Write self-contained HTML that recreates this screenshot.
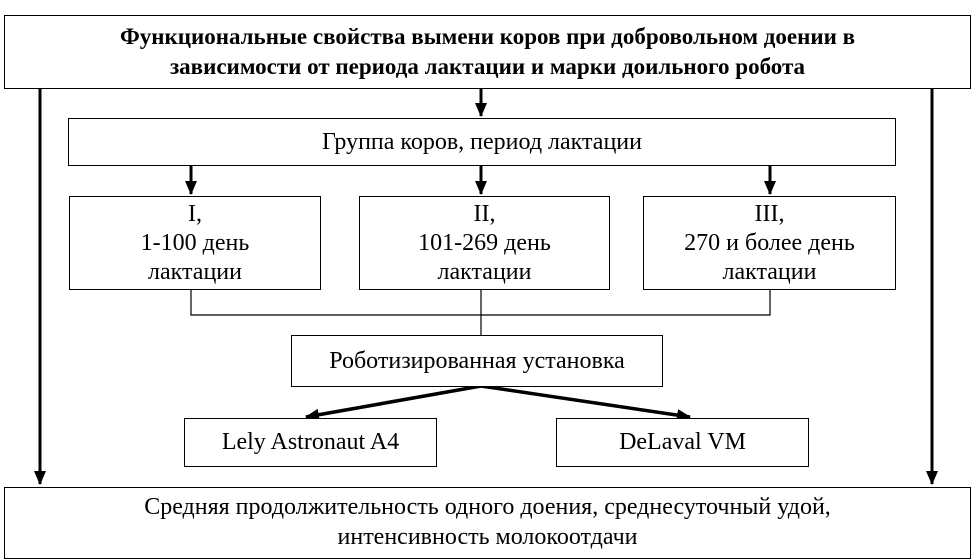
<!DOCTYPE html>
<html><head><meta charset="utf-8"><style>
body{margin:0;width:974px;height:557px;background:#fff;overflow:hidden;position:relative;font-family:"Liberation Serif","Noto Serif CJK SC",serif;color:#000}
.b{position:absolute;border:1.5px solid #000;box-sizing:border-box;display:flex;align-items:center;justify-content:center;text-align:center;font-size:24px;line-height:29px;background:#fff;white-space:nowrap}
svg{position:absolute;left:0;top:0}
</style></head><body>
<svg width="974" height="557">
<defs><marker id="m" markerWidth="14" markerHeight="12" refX="13" refY="6" orient="auto" markerUnits="userSpaceOnUse"><path d="M0,0L14,6L0,12z"/></marker></defs>
<g stroke="#000" fill="none">
<line x1="40" y1="88" x2="40" y2="484" stroke-width="3" marker-end="url(#m)"/>
<line x1="932" y1="88" x2="932" y2="484" stroke-width="3" marker-end="url(#m)"/>
<line x1="481" y1="88" x2="481" y2="116" stroke-width="3" marker-end="url(#m)"/>
<line x1="191" y1="165" x2="191" y2="194" stroke-width="3" marker-end="url(#m)"/>
<line x1="481" y1="165" x2="481" y2="194" stroke-width="3" marker-end="url(#m)"/>
<line x1="770" y1="165" x2="770" y2="194" stroke-width="3" marker-end="url(#m)"/>
<polyline points="191,289 191,315 770,315 770,289" stroke-width="1.2"/>
<line x1="481" y1="289" x2="481" y2="335" stroke-width="1.2"/>
<line x1="481" y1="386" x2="306" y2="417" stroke-width="3.5" marker-end="url(#m)"/>
<line x1="481" y1="386" x2="690" y2="417" stroke-width="3.5" marker-end="url(#m)"/>
</g></svg>
<div class="b" style="left:4px;top:15px;width:967px;height:74px;font-weight:bold;font-size:23px;line-height:30px">Функциональные свойства вымени коров при добровольном доении в<br>зависимости от периода лактации и марки доильного робота</div>
<div class="b" style="left:68px;top:118px;width:828px;height:48px">Группа коров, период лактации</div>
<div class="b" style="left:69px;top:196px;width:252px;height:94px">I,<br>1-100 день<br>лактации</div>
<div class="b" style="left:359px;top:196px;width:251px;height:94px">II,<br>101-269 день<br>лактации</div>
<div class="b" style="left:643px;top:196px;width:253px;height:94px">III,<br>270 и более день<br>лактации</div>
<div class="b" style="left:291px;top:335px;width:372px;height:52px">Роботизированная установка</div>
<div class="b" style="left:184px;top:418px;width:253px;height:49px">Lely Astronaut A4</div>
<div class="b" style="left:556px;top:418px;width:253px;height:49px">DeLaval VM</div>
<div class="b" style="left:4px;top:487px;width:967px;height:72px;line-height:30px;align-items:flex-start;padding-top:4px">Средняя продолжительность одного доения, среднесуточный удой,<br>интенсивность молокоотдачи</div>
</body></html>
